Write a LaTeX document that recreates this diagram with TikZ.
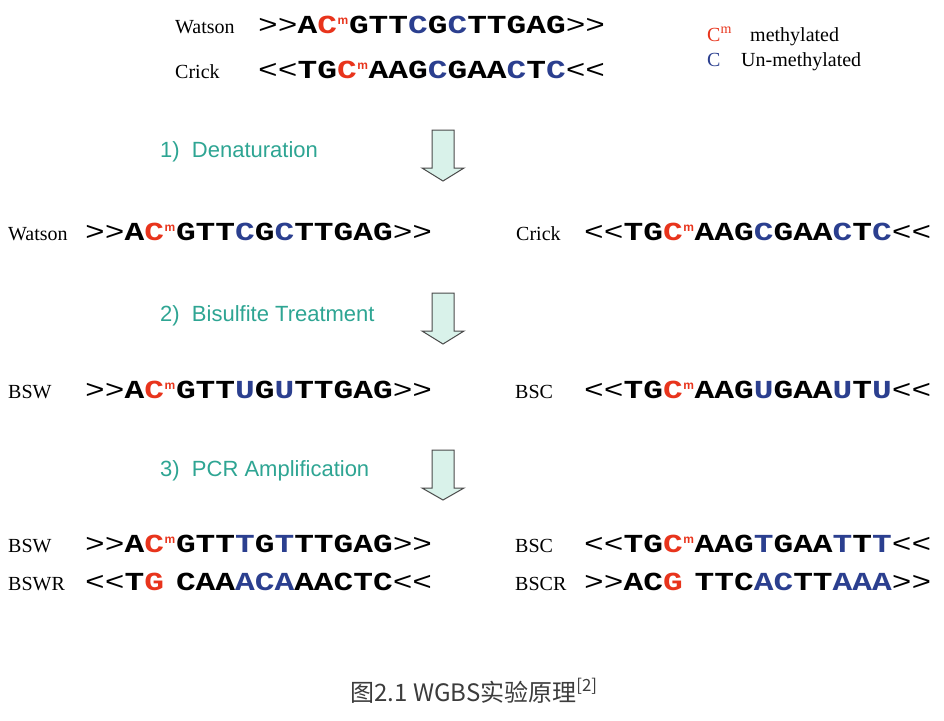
\documentclass[tikz,border=0pt]{standalone}
\usepackage{fontspec}
\setmainfont{Liberation Serif}
\newfontfamily\seqfont[FakeStretch=1.263]{Liberation Mono}
\newfontfamily\stepfont{Liberation Sans}
\newfontfamily\cjk{Noto Sans CJK SC}
\definecolor{mred}{HTML}{E8341C}
\definecolor{ublue}{HTML}{2B3F8F}
\definecolor{stepteal}{HTML}{2EA593}
\definecolor{arrowfill}{HTML}{D9F2EA}
\definecolor{arrowline}{HTML}{4A4A4A}
\definecolor{captiongray}{HTML}{3C3C3C}
\newcommand\Rd[1]{\textcolor{mred}{#1}}
\newcommand\Bl[1]{\textcolor{ublue}{#1}}
\newcommand\Mm{\makebox[12pt][c]{\raisebox{9pt}{\textcolor{mred}{\stepfont\bfseries\fontsize{12}{12}\selectfont m}}}}
\newcommand\Gp{\hspace*{12pt}}
\newcommand\Sq[3]{#1{\bfseries #2}#3}
\tikzset{
  lab/.style={anchor=base west, inner sep=0pt, font=\fontsize{20}{22}\selectfont},
  seq/.style={anchor=base west, inner sep=0pt, font=\seqfont\fontsize{26}{28}\selectfont},
  steptext/.style={anchor=base west, inner sep=0pt, text=stepteal, font=\stepfont\fontsize{22}{24}\selectfont},
  downarrow/.style={fill=arrowfill, draw=arrowline, line width=1pt, line join=miter},
}
\begin{document}
\begin{tikzpicture}[x=1pt, y=-1pt]
\fill[white] (0,0) rectangle (944,720);
\useasboundingbox (0,0) rectangle (944,720);

% top double strand
\node[lab] (lw0) at (175,33) {Watson};
\node[seq] (sw0) at (258,33) {\Sq{>>}{A\Rd{C}\Mm GTT\Bl{C}G\Bl{C}TTGAG}{>>}};
\node[lab] (lc0) at (175,78) {Crick};
\node[seq] (sc0) at (258,78) {\Sq{<<}{TG\Rd{C}\Mm AAG\Bl{C}GAA\Bl{C}T\Bl{C}}{<<}};

% legend
\node[lab] (legm) at (707,41) {\textcolor{mred}{C\textsuperscript{m}}};
\node[lab] (legmt) at (750,41) {methylated};
\node[lab] (legu) at (707,66) {\textcolor{ublue}{C}};
\node[lab] (legut) at (741,66) {Un-methylated};

% step 1
\node[steptext] (st1) at (160,157) {1)\ \ Denaturation};
\draw[downarrow] (432,130) -- (454,130) -- (454,168) -- (464,168) -- (443,181) -- (422,168) -- (432,168) -- cycle;

% row 2
\node[lab] (lw1) at (8,240) {Watson};
\node[seq] (sw1) at (85,240) {\Sq{>>}{A\Rd{C}\Mm GTT\Bl{C}G\Bl{C}TTGAG}{>>}};
\node[lab] (lc1) at (516,240) {Crick};
\node[seq] (sc1) at (584,240) {\Sq{<<}{TG\Rd{C}\Mm AAG\Bl{C}GAA\Bl{C}T\Bl{C}}{<<}};

% step 2
\node[steptext] (st2) at (160,321) {2)\ \ Bisulfite Treatment};
\draw[downarrow] (432,293) -- (454,293) -- (454,331) -- (464,331) -- (443,344) -- (422,331) -- (432,331) -- cycle;

% row 3
\node[lab] (lw2) at (8,398) {BSW};
\node[seq] (sw2) at (85,398) {\Sq{>>}{A\Rd{C}\Mm GTT\Bl{U}G\Bl{U}TTGAG}{>>}};
\node[lab] (lc2) at (515,398) {BSC};
\node[seq] (sc2) at (584,398) {\Sq{<<}{TG\Rd{C}\Mm AAG\Bl{U}GAA\Bl{U}T\Bl{U}}{<<}};

% step 3
\node[steptext] (st3) at (160,476) {3)\ \ PCR Amplification};
\draw[downarrow] (432,450) -- (454,450) -- (454,488) -- (464,488) -- (443,500) -- (422,488) -- (432,488) -- cycle;

% row 4 and 5
\node[lab] (lw3) at (8,552) {BSW};
\node[seq] (sw3) at (85,552) {\Sq{>>}{A\Rd{C}\Mm GTT\Bl{T}G\Bl{T}TTGAG}{>>}};
\node[lab] (lc3) at (515,552) {BSC};
\node[seq] (sc3) at (584,552) {\Sq{<<}{TG\Rd{C}\Mm AAG\Bl{T}GAA\Bl{T}T\Bl{T}}{<<}};
\node[lab] (lw4) at (8,590) {BSWR};
\node[seq] (sw4) at (85,590) {\Sq{<<}{T\Rd{G}\Gp CAA\Bl{ACA}AACTC}{<<}};
\node[lab] (lc4) at (515,590) {BSCR};
\node[seq] (sc4) at (584,590) {\Sq{>>}{AC\Rd{G}\Gp TTC\Bl{AC}TT\Bl{AAA}}{>>}};

% caption
\node[anchor=base, inner sep=0pt, text=captiongray, font=\cjk\fontsize{24}{27}\selectfont] (cap) at (474,701) {图2.1 WGBS实验原理\textsuperscript{[2]}};
\end{tikzpicture}
\end{document}
